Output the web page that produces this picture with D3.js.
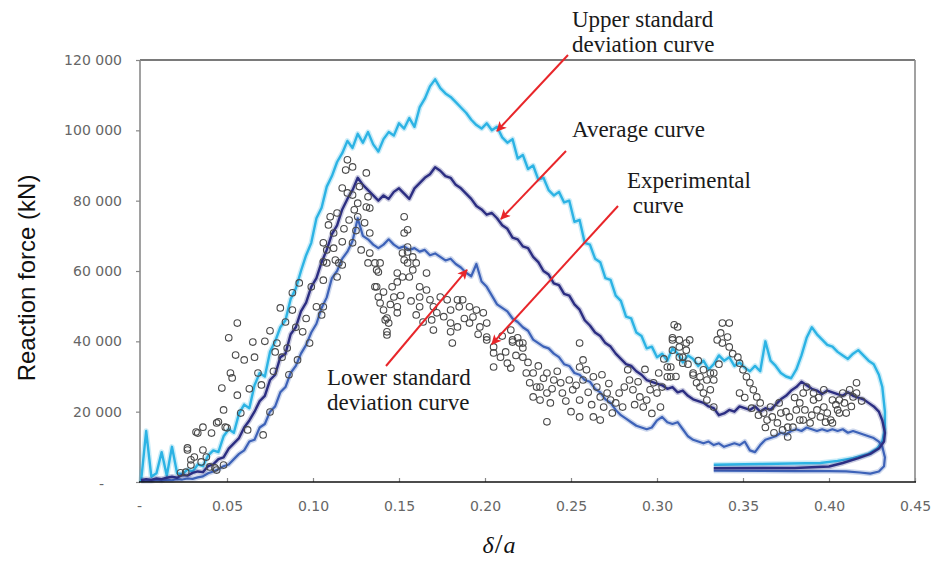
<!DOCTYPE html>
<html>
<head>
<meta charset="utf-8">
<script src="https://cdn.jsdelivr.net/npm/d3@7"></script>
<style>
  html, body { margin: 0; padding: 0; background: #fff; }
  svg { display: block; }
</style>
</head>
<body>
<svg id="chart" width="939" height="563"></svg>
<script>
// Normalised displacement δ/a shared by the three simulated curves
const strain = [
  0, .003, .006, .009, .012, .015, .018, .021, .024, .027,
  .030, .033, .036, .039, .042, .045, .048, .051, .054, .057,
  .060, .063, .066, .069, .072, .075, .078, .081, .084, .087,
  .090, .093, .096, .099, .102, .105, .108, .111, .114, .117,
  .120, .123, .126, .129, .132, .135, .138, .141, .144, .147,
  .150, .153, .156, .159, .162, .165, .168, .171, .174, .177,
  .180, .183, .186, .189, .192, .195, .198, .201, .204, .207,
  .210, .213, .216, .219, .222, .225, .228, .231, .234, .237,
  .240, .243, .246, .249, .252, .255, .258, .261, .264, .267,
  .270, .273, .276, .279, .282, .285, .288, .291, .294, .297,
  .300, .303, .306, .309, .312, .315, .318, .321, .324, .327,
  .330, .333, .336, .339, .342, .345, .348, .351, .354, .357,
  .360, .363, .366, .369, .372, .375, .378, .381, .384, .387,
  .390, .393, .396, .399, .402, .405, .408, .411, .414, .417,
  .420, .423, .426, .429
];

// Reaction force (kN) of the upper standard deviation curve
const upperStd = [
  0, 14500, 1500, 2500, 8500, 1800, 10000, 2500, 2200, 3500,
  3000, 5000, 4500, 7500, 9000, 8500, 13000, 15000, 14000, 19500,
  22000, 21000, 27500, 31000, 30000, 37000, 40000, 44000, 46000, 52000,
  55000, 60000, 64500, 68000, 75000, 78000, 84000, 87000, 91000, 93500,
  97000, 95000, 99000, 96500, 99500, 96000, 94000, 97500, 99500, 98500,
  102000, 100500, 103500, 101000, 106500, 109000, 112500, 114500, 112000, 110500,
  109500, 108000, 106500, 105000, 103000, 101500, 100500, 102000, 100000, 101000,
  98000, 96500, 97500, 92000, 93000, 89000, 90000, 86000, 86500, 83000,
  81500, 82500, 79500, 80000, 74000, 74500, 68000, 67500, 63500, 62500,
  58000, 57500, 53000, 51500, 47000, 46500, 42500, 41500, 38000, 38500,
  35500, 36500, 34500, 38000, 36500, 34000, 36000, 35000, 33000, 34500,
  32000, 33500, 36000, 34500, 35500, 33000, 34000, 32500, 31500, 33000,
  31500, 40000, 34500, 33000, 31000, 30000, 29500, 32000, 36000, 41000,
  44000, 42000, 40500, 39000, 38500, 37000, 36000, 35000, 36500, 37500,
  36000, 34500, 33500, 30500
];

// Reaction force (kN) of the average curve
const averageCurve = [
  500, 800, 600, 1000, 800, 1200, 1500, 1200, 2000, 1800,
  2600, 3000, 2800, 4500, 5000, 6500, 7000, 9500, 11000, 12500,
  15500, 17500, 20000, 23000, 24500, 29000, 30500, 35500, 36500, 42000,
  44000, 48500, 51000, 55500, 58000, 62500, 66000, 70500, 73000, 77500,
  80500, 83000, 86500, 84500, 83000, 81500, 80000, 81500, 80500, 82500,
  83500, 82000, 80500, 83500, 85000, 86500, 87500, 89500, 88500, 87000,
  86500, 84500, 83500, 82000, 80500, 78500, 77500, 76000, 76500, 75000,
  73000, 72000, 69500, 69000, 67000, 66500, 64000, 62500, 60000, 59000,
  56500, 56000, 53500, 53000, 50500, 49000, 46000, 44500, 42500, 41500,
  39500, 38500, 36500, 35000, 33500, 33000, 31500, 30500, 29000, 28500,
  28000, 27500, 26500, 27000, 25500, 26000, 24500, 23500, 23000, 22500,
  21500, 21000, 19000, 19500, 20500, 20000, 21500, 21000, 20500, 21500,
  20000, 21000, 20500, 22000, 23500, 24500, 26000, 27000, 28500, 27500,
  26500, 26000, 25000, 26000, 25500, 25000, 24500, 25500, 24500, 24000,
  23500, 22500, 21500, 20000
];

// Reaction force (kN) of the lower standard deviation curve
const lowerStd = [
  300, 400, 300, 500, 400, 600, 500, 800, 700, 1000,
  900, 1300, 1600, 2500, 3000, 3600, 4500, 5000, 6500, 8000,
  9000, 11500, 12000, 15500, 16500, 20000, 21500, 25500, 27000, 31000,
  33000, 36500, 39000, 42500, 45000, 49500, 52500, 58000, 60000, 63500,
  65500, 68500, 75000, 70000, 69000, 67500, 66500, 67500, 69000, 67500,
  66500, 67000, 66000, 66500, 65500, 66000, 64500, 65000, 64000, 63000,
  63500, 62000, 61000, 59500, 58500, 62000, 57000, 55500, 53000, 50500,
  49500, 48500, 46500, 45500, 44000, 43000, 40500, 39500, 38500, 38000,
  36500, 35500, 33500, 33000, 31000, 30500, 29000, 28500, 26500, 25500,
  23500, 22500, 20500, 19000, 18000, 17000, 16000, 15500, 15000, 15500,
  17500, 18500, 17000, 16500, 17000, 15000, 13000, 12000, 11500, 11000,
  11500, 10500, 11000, 10000, 10500, 11000, 10500, 11500, 9000, 8500,
  10500, 12000, 12500, 13000, 14000, 13500, 14500, 15000, 14500, 15500,
  15000, 14500, 15000, 14500, 15000, 14500, 15000, 14000, 14500, 14000,
  13500, 13000, 12500, 11500
];

// Unloading branches [δ/a, kN] that run back to the left at low force
const upperReturn = [
  [0.431, 27000], [0.4325, 20000], [0.4325, 15000], [0.431, 11500], [0.428, 9500],
  [0.423, 8000], [0.414, 6800], [0.405, 6000], [0.395, 5400], [0.36, 5100], [0.333, 4900]
];
const averageReturn = [
  [0.431, 17500], [0.4325, 14000], [0.432, 11500], [0.429, 9500], [0.424, 8000],
  [0.417, 6800], [0.408, 5400], [0.400, 4400], [0.380, 4000], [0.333, 3900]
];
const lowerReturn = [
  [0.431, 10000], [0.4325, 7000], [0.432, 4500], [0.429, 3000], [0.424, 2400],
  [0.418, 2700], [0.410, 3000], [0.400, 3100], [0.380, 3100], [0.333, 3200]
];

// Measured points [δ/a, kN]
const experimental = [
  [0.047, 26700], [0.056, 24700], [0.048, 20500], [0.036, 15600], [0.032, 14200],
  [0.045, 17100], [0.049, 15600], [0.041, 13900], [0.027, 9700], [0.031, 7100],
  [0.036, 9100], [0.035, 5700], [0.040, 4300], [0.044, 3400], [0.029, 4800],
  [0.026, 2800], [0.058, 19600], [0.071, 13400], [0.070, 27600], [0.075, 19900],
  [0.062, 14800], [0.056, 45200], [0.051, 41000], [0.065, 39800], [0.055, 36100],
  [0.060, 34700], [0.052, 31000], [0.053, 29600], [0.044, 16800], [0.050, 15400],
  [0.033, 13900], [0.081, 49500], [0.088, 48900], [0.079, 39500], [0.085, 38100],
  [0.091, 34700], [0.082, 35500], [0.098, 39500], [0.094, 42700], [0.102, 49800],
  [0.106, 49800], [0.105, 47500], [0.092, 56600], [0.099, 55500], [0.106, 57400],
  [0.114, 58300], [0.088, 53800], [0.027, 9100], [0.029, 6300], [0.023, 2600],
  [0.038, 7100], [0.043, 4000], [0.048, 4800], [0.072, 40000], [0.075, 43000],
  [0.078, 37000], [0.066, 35500],
  [0.108, 62300], [0.117, 61700], [0.136, 62300], [0.138, 59700], [0.137, 55500],
  [0.141, 54000], [0.139, 50900], [0.143, 46600], [0.143, 42700],
  [0.120, 91600], [0.119, 88700], [0.123, 89600], [0.131, 87900], [0.117, 83600],
  [0.120, 82200], [0.123, 81600], [0.132, 81100], [0.131, 78200], [0.133, 77900],
  [0.110, 75400], [0.109, 73100], [0.112, 70800], [0.117, 68300], [0.123, 68000],
  [0.106, 68000], [0.106, 62600], [0.113, 63100], [0.115, 62300], [0.130, 73700],
  [0.133, 70800], [0.126, 75400], [0.124, 77400], [0.126, 79300], [0.133, 65100],
  [0.132, 62300], [0.137, 60300], [0.139, 62300], [0.149, 59400], [0.152, 65100],
  [0.155, 66800], [0.155, 65400], [0.153, 63100], [0.160, 62300], [0.158, 60300],
  [0.166, 59400], [0.153, 75400], [0.155, 71700], [0.153, 70800], [0.114, 76500],
  [0.158, 64000], [0.155, 62300], [0.149, 56900], [0.136, 55500], [0.138, 52600],
  [0.146, 55500], [0.147, 52600], [0.141, 48900], [0.149, 49800], [0.149, 48100],
  [0.142, 46100], [0.144, 45200], [0.162, 55500], [0.162, 52600], [0.166, 54600],
  [0.168, 51800], [0.162, 49800], [0.170, 49800], [0.172, 48100], [0.169, 46100],
  [0.174, 52600], [0.178, 51800], [0.180, 48900], [0.184, 51800], [0.185, 49800],
  [0.187, 51800], [0.191, 49800], [0.195, 48900], [0.199, 48100], [0.193, 46900],
  [0.180, 45200], [0.184, 44100], [0.191, 45200], [0.197, 44100], [0.180, 42700],
  [0.143, 41800], [0.170, 43200], [0.181, 39500], [0.201, 40400], [0.205, 38400],
  [0.216, 39800], [0.219, 41000], [0.222, 39500], [0.222, 38100], [0.215, 43200],
  [0.152, 58300], [0.156, 58300],
  [0.201, 45200], [0.201, 41200], [0.205, 36700], [0.209, 35500], [0.213, 33800],
  [0.205, 32700], [0.215, 32400], [0.216, 40400], [0.220, 39500], [0.222, 35500],
  [0.224, 31000], [0.228, 31000], [0.226, 28200], [0.230, 27000], [0.228, 24200],
  [0.232, 23300], [0.236, 25300], [0.238, 22500], [0.236, 17100], [0.240, 29000],
  [0.244, 28200], [0.245, 25300], [0.249, 29000], [0.251, 26200], [0.255, 23300],
  [0.257, 34700], [0.255, 39500], [0.259, 31900], [0.263, 29900], [0.265, 27000],
  [0.267, 24200], [0.269, 21300], [0.271, 25300], [0.273, 23300], [0.274, 19600],
  [0.280, 21300], [0.278, 25300], [0.283, 31900], [0.284, 29000], [0.286, 26200],
  [0.290, 24200], [0.292, 21300], [0.294, 23300], [0.296, 26200], [0.298, 28200],
  [0.300, 25300], [0.302, 21300], [0.306, 29900], [0.308, 32700], [0.309, 40400],
  [0.312, 44100], [0.313, 38400], [0.315, 35500], [0.317, 37500], [0.319, 40400],
  [0.321, 31000], [0.323, 28200], [0.325, 29900], [0.327, 31900], [0.329, 29000],
  [0.333, 31000], [0.335, 40400], [0.255, 18500], [0.263, 18500], [0.267, 17600],
  [0.236, 31000], [0.232, 27000], [0.255, 32700], [0.257, 29000],
  [0.310, 44700], [0.309, 41000], [0.313, 40400], [0.317, 39500], [0.309, 37500],
  [0.313, 35500], [0.315, 33800], [0.306, 32700], [0.308, 29900], [0.303, 27000],
  [0.321, 30400], [0.325, 27000], [0.327, 25300], [0.331, 31000], [0.333, 29000],
  [0.331, 26200], [0.329, 23300], [0.333, 21300], [0.338, 45200], [0.342, 45200],
  [0.337, 42400], [0.341, 41200], [0.338, 39500], [0.342, 38400], [0.347, 35500],
  [0.348, 33800], [0.350, 31900], [0.352, 29900], [0.348, 25300], [0.354, 28200],
  [0.356, 26200], [0.358, 24200], [0.360, 22500], [0.362, 19600], [0.364, 17600],
  [0.367, 18500], [0.370, 16800], [0.372, 19600], [0.373, 14800], [0.376, 12800],
  [0.379, 15600], [0.377, 18500], [0.381, 20500], [0.383, 22500], [0.385, 25300],
  [0.387, 27000], [0.391, 23300], [0.393, 20500], [0.395, 18500], [0.397, 21300],
  [0.399, 19600], [0.401, 17600], [0.405, 20500], [0.406, 23300], [0.408, 25300],
  [0.412, 26200], [0.414, 24200], [0.416, 28200], [0.410, 19600], [0.402, 16800],
  [0.389, 16800], [0.385, 17600], [0.366, 21300], [0.391, 25300], [0.397, 26200],
  [0.402, 23300], [0.416, 25300], [0.406, 19600], [0.383, 17600], [0.376, 15600],
  [0.145, 50500], [0.151, 53000], [0.157, 51500], [0.160, 47500], [0.164, 45500],
  [0.176, 47000], [0.188, 46500], [0.196, 42000], [0.210, 41500], [0.212, 37000],
  [0.218, 36000], [0.225, 34000], [0.231, 33000], [0.234, 29500], [0.239, 26500],
  [0.242, 31500], [0.247, 23000], [0.250, 20000], [0.253, 27500], [0.260, 25500],
  [0.262, 22000], [0.268, 30500], [0.272, 28000], [0.276, 22500], [0.281, 27000],
  [0.287, 22000], [0.289, 28500], [0.293, 32000], [0.297, 19500], [0.301, 31000],
  [0.304, 35000], [0.311, 30000], [0.318, 33500], [0.324, 34500], [0.336, 33500],
  [0.344, 36500], [0.351, 24000], [0.355, 21000], [0.359, 19000], [0.363, 15500],
  [0.368, 14000], [0.371, 22500], [0.375, 20000], [0.380, 24000], [0.386, 20500],
  [0.390, 19000], [0.394, 24000], [0.398, 17000], [0.404, 22000], [0.409, 22500],
  [0.413, 21500], [0.419, 23000], [0.108, 66000], [0.112, 66500], [0.118, 72000],
  [0.121, 74500], [0.127, 84000], [0.125, 71500], [0.128, 66000], [0.096, 46500],
  [0.090, 44000], [0.084, 45500], [0.068, 31000], [0.063, 26500], [0.086, 30500],
  [0.077, 31500]
];

const xTicks = [0, 0.05, 0.10, 0.15, 0.20, 0.25, 0.30, 0.35, 0.40, 0.45];
const xTickLabels = ["-", "0.05", "0.10", "0.15", "0.20", "0.25", "0.30", "0.35", "0.40", "0.45"];
const yTicks = [0, 20000, 40000, 60000, 80000, 100000, 120000];
const yTickLabels = ["-", "20 000", "40 000", "60 000", "80 000", "100 000", "120 000"];

// ---- drawing ----
const svg = d3.select("#chart");
const plot = { left: 141, right: 915, top: 60, bottom: 482 };

const x = d3.scaleLinear().domain([0, 0.45]).range([plot.left, plot.right]);
const y = d3.scaleLinear().domain([0, 120000]).range([plot.bottom, plot.top]);

svg.append("rect").attr("width", 939).attr("height", 563).attr("fill", "#fff");

// frame
const frame = svg.append("g").attr("fill", "none");
frame.append("line").attr("x1", plot.left - 1).attr("x2", plot.right).attr("y1", plot.top).attr("y2", plot.top)
  .attr("stroke", "#7a7a7a").attr("stroke-width", 2);
frame.append("line").attr("x1", plot.left - 1).attr("x2", plot.left - 1).attr("y1", plot.top).attr("y2", plot.bottom)
  .attr("stroke", "#8a8a8a").attr("stroke-width", 1.6);
frame.append("line").attr("x1", plot.right).attr("x2", plot.right).attr("y1", plot.top).attr("y2", plot.bottom)
  .attr("stroke", "#8a8a8a").attr("stroke-width", 1.6);

// axes
const tickFont = "'DejaVu Sans', sans-serif";
const yAxis = svg.append("g")
  .attr("transform", `translate(${plot.left - 1},0)`)
  .call(d3.axisLeft(y).tickValues(yTicks).tickFormat((d, i) => yTickLabels[i]).tickSize(4).tickPadding(14));
yAxis.select(".domain").remove();
yAxis.selectAll(".tick line").attr("stroke", "#888").attr("stroke-width", 1.2);
yAxis.selectAll(".tick text").attr("font-family", tickFont).attr("font-size", 14).attr("fill", "#666");
yAxis.selectAll(".tick").filter(d => d === 0).select("text").attr("x", -36).attr("dy", "0.45em");

const xAxis = svg.append("g")
  .attr("transform", `translate(0,${plot.bottom})`)
  .call(d3.axisBottom(x).tickValues(xTicks).tickFormat((d, i) => xTickLabels[i]).tickSize(-4).tickPadding(19));
xAxis.select(".domain").remove();
xAxis.selectAll(".tick line").attr("stroke", "#888").attr("stroke-width", 1.2);
xAxis.selectAll(".tick text").attr("font-family", tickFont).attr("font-size", 14).attr("fill", "#666");
xAxis.selectAll(".tick").filter(d => d === 0).select("text").attr("dx", "-2");

// curves: a soft wide stroke under a crisp one gives the noisy band look
const line = d3.line().x(d => x(d[0])).y(d => y(d[1]));
const curves = [
  { values: upperStd, back: upperReturn, color: "#2cb3e4", width: 2.4 },
  { values: lowerStd, back: lowerReturn, color: "#3d62b8", width: 2.2 },
  { values: averageCurve, back: averageReturn, color: "#2c2e82", width: 2.4 }
];
curves.forEach(c => {
  const pts = strain.map((s, i) => [s, c.values[i]]).concat(c.back);
  const g = svg.append("g").attr("fill", "none").attr("stroke", c.color).attr("stroke-linejoin", "round");
  g.append("path").attr("d", line(pts)).attr("stroke-width", c.width + 3).attr("stroke-opacity", 0.25);
  g.append("path").attr("d", line(pts)).attr("stroke-width", c.width);
});

// experimental points
svg.append("g")
  .selectAll("circle")
  .data(experimental)
  .join("circle")
  .attr("cx", d => x(d[0]))
  .attr("cy", d => y(d[1]))
  .attr("r", 3.3)
  .attr("fill", "none")
  .attr("stroke", "#4a4a4a")
  .attr("stroke-width", 1.1);

// bottom axis line drawn over the curves
svg.append("line").attr("x1", plot.left - 2).attr("x2", plot.right + 1)
  .attr("y1", plot.bottom).attr("y2", plot.bottom)
  .attr("stroke", "#111").attr("stroke-width", 1.6);

// axis titles
svg.append("text")
  .attr("transform", "translate(35,278) rotate(-90)")
  .attr("text-anchor", "middle")
  .attr("font-family", "'Liberation Sans', Arial, sans-serif")
  .attr("font-size", 24)
  .attr("fill", "#111")
  .text("Reaction force (kN)");

const xt = svg.append("text")
  .attr("x", 499).attr("y", 553)
  .attr("text-anchor", "middle")
  .attr("font-family", "'Liberation Serif', 'Times New Roman', serif")
  .attr("fill", "#111");
xt.append("tspan").attr("font-style", "italic").attr("font-size", 24).text("δ");
xt.append("tspan").attr("font-size", 28).attr("dx", 1).text("/");
xt.append("tspan").attr("font-style", "italic").attr("font-size", 24).attr("dx", 1).text("a");

// annotations
const defs = svg.append("defs");
defs.append("marker")
  .attr("id", "arrowhead")
  .attr("viewBox", "0 0 10 10")
  .attr("refX", 9).attr("refY", 5)
  .attr("markerWidth", 13).attr("markerHeight", 10)
  .attr("markerUnits", "userSpaceOnUse")
  .attr("orient", "auto")
  .append("path").attr("d", "M0,0 L10,5 L0,10 L2.5,5 z").attr("fill", "#e8262a");

const notes = [
  { lines: ["Upper standard", "deviation curve"], tx: 572, ty: 27, from: [568, 55], to: [0.207, 99800] },
  { lines: ["Average curve"], tx: 572, ty: 137, from: [566, 151], to: [0.2093, 74800] },
  { lines: ["Experimental", " curve"], tx: 627, ty: 188, from: [618, 206], to: [0.204, 39200] },
  { lines: ["Lower standard", "deviation curve"], tx: 327, ty: 385, from: [386, 366], to: [0.1895, 60300] }
];
notes.forEach(n => {
  svg.append("line")
    .attr("x1", n.from[0]).attr("y1", n.from[1])
    .attr("x2", x(n.to[0])).attr("y2", y(n.to[1]))
    .attr("stroke", "#e8262a").attr("stroke-width", 2)
    .attr("marker-end", "url(#arrowhead)");
  const t = svg.append("text")
    .attr("font-family", "'Liberation Serif', 'Times New Roman', serif")
    .attr("font-size", 23)
    .attr("fill", "#1a1a1a");
  n.lines.forEach((s, i) => {
    t.append("tspan").attr("x", n.tx).attr("y", n.ty + i * 25).attr("xml:space", "preserve").text(s);
  });
});
</script>
</body>
</html>
